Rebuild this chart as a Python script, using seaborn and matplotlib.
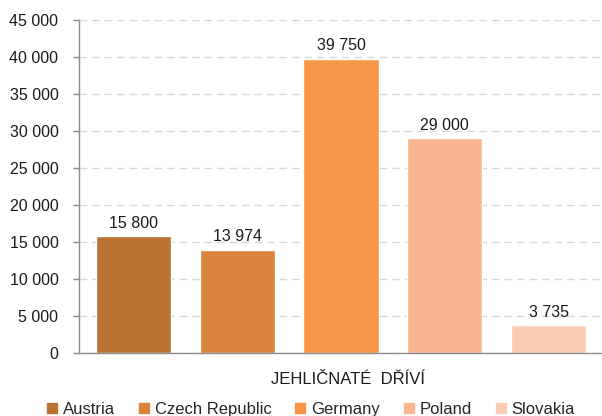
import matplotlib
matplotlib.use("Agg")
import matplotlib.pyplot as plt
import matplotlib.transforms as mtransforms
import pandas as pd
import seaborn as sns
from matplotlib.ticker import FuncFormatter

# data
countries = ["Austria", "Czech Republic", "Germany", "Poland", "Slovakia"]
values = [15800, 13974, 39750, 29000, 3735]
category = "JEHLIČNATÉ  DŘÍVÍ"
colors = ["#B87333", "#DB843D", "#F79646", "#F9B590", "#FBCDB4"]
y_ticks = list(range(0, 45001, 5000))

sns.set_theme(style="white")
plt.rcParams["font.family"] = ["Liberation Sans", "DejaVu Sans"]
plt.rcParams["font.size"] = 11.5


def fmt(v):
    return f"{int(v):,}".replace(",", " ")


df = pd.DataFrame({"cat": [category] * len(countries), "country": countries, "value": values})

fig = plt.figure(figsize=(6.02, 4.16), dpi=100)
ax = fig.add_axes([79 / 602, 63 / 416, 524 / 602, 333 / 416])

sns.barplot(
    data=df, x="cat", y="value", hue="country", hue_order=countries,
    palette=colors, width=0.99, gap=0.277, saturation=1, ax=ax, legend=False,
)

for cont in ax.containers:
    ax.bar_label(cont, labels=[fmt(v) for v in cont.datavalues], padding=4,
                 fontsize=11.5, color="#1a1a1a")

ax.set_ylim(0, 45000)
ax.set_xlim(-0.5, 0.5)
ax.set_yticks(y_ticks)
ax.yaxis.set_major_formatter(FuncFormatter(lambda v, _: fmt(v)))
ax.yaxis.grid(True, linestyle=(0, (5.5, 3.5)), color="#d9d9d9", linewidth=1)
ax.set_axisbelow(True)
ax.set_xlabel("")
ax.set_ylabel("")

for side in ["top", "right"]:
    ax.spines[side].set_visible(False)
for side in ["left", "bottom"]:
    ax.spines[side].set_color("#8c8c8c")
    ax.spines[side].set_linewidth(1)

ax.tick_params(axis="y", which="major", left=True, length=4.3, width=1, color="#8c8c8c",
               labelsize=11.5, labelcolor="#1a1a1a", pad=10.5)
ax.tick_params(axis="x", bottom=False, labelsize=12, labelcolor="#1a1a1a", pad=8)

# the category label sits a little right of centre in the original
shift = mtransforms.ScaledTranslation(7 / 100, 0, fig.dpi_scale_trans)
for lbl in ax.get_xticklabels():
    lbl.set_transform(lbl.get_transform() + shift)

handles = [plt.Rectangle((0, 0), 1, 1, color=c) for c in colors]
fig.legend(handles, countries, loc="center", bbox_to_anchor=(311 / 602, 0.016), ncol=5,
           frameon=False, handlelength=0.6, handleheight=0.6, handletextpad=0.34,
           columnspacing=1.44, fontsize=12, borderpad=0)

fig.savefig("out.png", dpi=100)
